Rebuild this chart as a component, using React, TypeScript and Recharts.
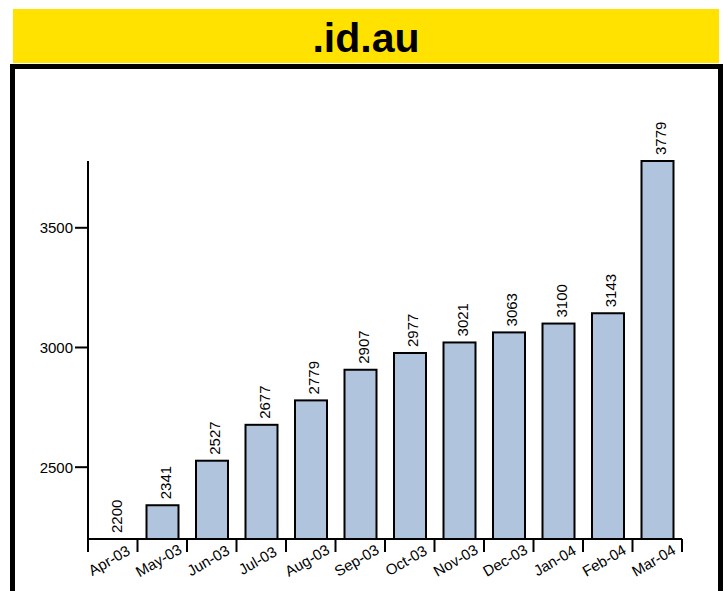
import React from "react";
import { BarChart, Bar, XAxis, YAxis } from "recharts";

const months = [
  "Apr-03",
  "May-03",
  "Jun-03",
  "Jul-03",
  "Aug-03",
  "Sep-03",
  "Oct-03",
  "Nov-03",
  "Dec-03",
  "Jan-04",
  "Feb-04",
  "Mar-04",
];
const visits = [2200, 2341, 2527, 2677, 2779, 2907, 2977, 3021, 3063, 3100, 3143, 3779];
const yTicks = [2500, 3000, 3500];
const yDomain = [2200, 3779];

const data = months.map((month, i) => ({ month, value: visits[i] }));

const FONT = "'Liberation Sans', Arial, sans-serif";
const BAND = 594 / months.length;

function MonthTick(props: any) {
  const { x, y, payload, index } = props;
  const left = x - BAND / 2;
  const tx = x - 1;
  const ty = y + 26;
  return (
    <g>
      <line x1={left} y1={y} x2={left} y2={y + 13} stroke="#000" strokeWidth={2} />
      {index === months.length - 1 && (
        <line x1={x + BAND / 2} y1={y} x2={x + BAND / 2} y2={y + 13} stroke="#000" strokeWidth={2} />
      )}
      <text
        x={tx}
        y={ty}
        transform={`rotate(-30, ${tx}, ${ty})`}
        textAnchor="middle"
        fontSize={15}
        fontFamily={FONT}
        fill="#000"
      >
        {payload.value}
      </text>
    </g>
  );
}

// bar body plus its rotated value, so the 2200 bar (zero height) still gets its label
function BarWithValue(props: any) {
  const { x, y, width, height, value, fill } = props;
  const v = Array.isArray(value) ? value[1] : value;
  const cx = x + width / 2 + 8.5;
  const ty = y - 6;
  return (
    <g>
      {height > 0.5 && (
        <rect x={x} y={y} width={width} height={height} fill={fill} stroke="#000" strokeWidth={2} />
      )}
      <text
        x={cx}
        y={ty}
        transform={`rotate(-90, ${cx}, ${ty})`}
        textAnchor="start"
        fontSize={15}
        fontFamily={FONT}
        fill="#000"
      >
        {v}
      </text>
    </g>
  );
}

export default function App() {
  return (
    <div
      style={{
        position: "absolute",
        left: 0,
        top: 0,
        width: 728,
        height: 591,
        overflow: "hidden",
        background: "#fff",
        fontFamily: FONT,
      }}
    >
      <div
        style={{
          position: "absolute",
          left: 13,
          top: 9,
          width: 706,
          height: 54,
          background: "#ffe200",
          textAlign: "center",
          fontSize: 41,
          fontWeight: "bold",
          lineHeight: "54px",
          paddingTop: 2,
          boxSizing: "border-box",
          color: "#000",
        }}
      >
        .id.au
      </div>
      <div
        style={{
          position: "absolute",
          left: 10,
          top: 64,
          width: 713,
          height: 600,
          border: "5px solid #000",
          boxSizing: "border-box",
        }}
      />
      <div style={{ position: "absolute", left: 0, top: 0 }}>
        <BarChart
          width={728}
          height={591}
          data={data}
          margin={{ top: 161, right: 46, bottom: 0, left: 28 }}
        >
          <XAxis
            dataKey="month"
            height={52}
            interval={0}
            axisLine={{ stroke: "#000", strokeWidth: 2 }}
            tickLine={false}
            tickSize={0}
            tickMargin={0}
            tick={<MonthTick />}
          />
          <YAxis
            width={60}
            domain={yDomain}
            ticks={yTicks}
            axisLine={{ stroke: "#000", strokeWidth: 2 }}
            tickLine={{ stroke: "#000", strokeWidth: 2 }}
            tickSize={13}
            tickMargin={2}
            tick={{ fill: "#000", fontSize: 15, fontFamily: FONT }}
          />
          <Bar
            dataKey="value"
            barSize={32}
            fill="#b0c4de"
            shape={<BarWithValue />}
            isAnimationActive={false}
          />
        </BarChart>
      </div>
    </div>
  );
}
